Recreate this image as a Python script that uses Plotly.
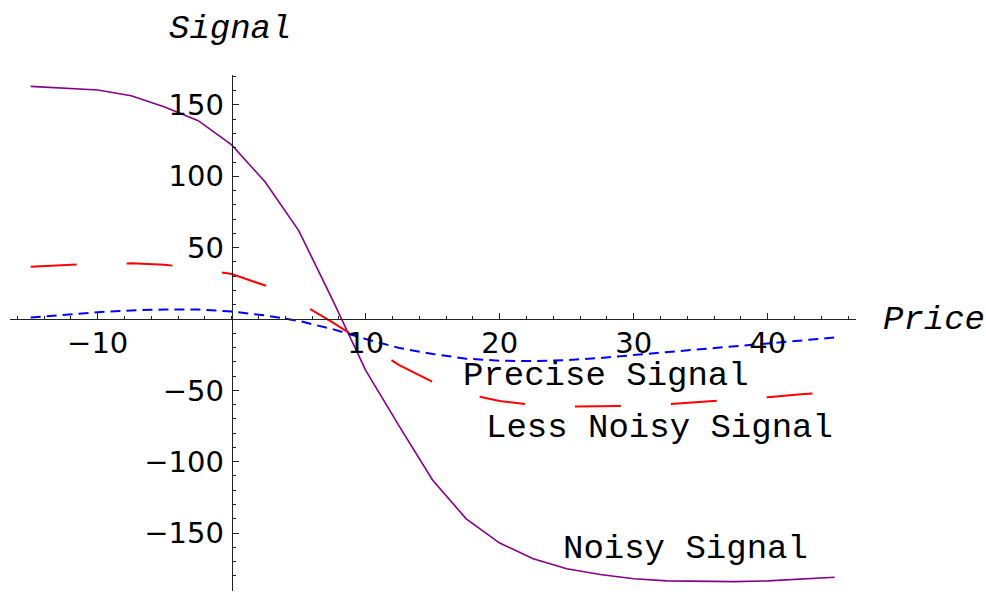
import plotly.graph_objects as go

# ---- data ----
price = [-15, -12.5, -10, -7.5, -5, -2.5, 0, 2.5, 5, 7.5, 10, 12.5, 15,
         17.5, 20, 22.5, 25, 27.5, 30, 32.5, 35, 37.5, 40, 42.5, 45]

noisy_signal = [163, 162, 160.5, 156.5, 148.5, 139, 122, 96, 62, 14, -36, -75, -113,
                -140, -157, -168, -175, -179, -182, -183.5, -184, -184, -183.5, -182.5, -181]

less_noisy_signal = [36.7, 38, 38.8, 39, 38, 35.5, 31.5, 23.5, 11.8, -2.2, -17.3, -32.3, -44,
                     -52.5, -57.5, -60.3, -61.3, -61.3, -60.8, -59.8, -58.3, -56.6, -54.8, -52.8, -51]

precise_signal = [1, 3, 4.8, 6, 6.7, 6.6, 5.3, 2.5, -1.3, -7, -14, -20.3, -24.5,
                  -27.8, -29.2, -29.5, -28.8, -27.3, -25.2, -23, -21, -19, -17, -15, -13]

x_tickvals = [-10, 10, 20, 30, 40]
x_ticktext = ["\u221210", "10", "20", "30", "40"]
y_tickvals = [-150, -100, -50, 50, 100, 150]
y_ticktext = ["\u2212150", "\u2212100", "\u221250", "50", "100", "150"]

# ---- geometry (page body margin removed by post_script) ----
W, H = 986, 592

X_RANGE = [-16.545, 46.567]
Y_RANGE = [-190.6, 171.0]
X_DOMAIN = [10 / W, 855.7 / W]
Y_DOMAIN = [(H - 591) / H, (H - 75) / H]

def x_paper(v):
    f = (v - X_RANGE[0]) / (X_RANGE[1] - X_RANGE[0])
    return X_DOMAIN[0] + f * (X_DOMAIN[1] - X_DOMAIN[0])

def y_paper(v):
    f = (v - Y_RANGE[0]) / (Y_RANGE[1] - Y_RANGE[0])
    return Y_DOMAIN[0] + f * (Y_DOMAIN[1] - Y_DOMAIN[0])

def ax(xpix):
    return xpix / W

def ay(ypix):
    return 1 - ypix / H

fig = go.Figure()

fig.add_trace(go.Scatter(x=price, y=noisy_signal, mode="lines",
                         line=dict(color="#880088", width=1.6),
                         name="Noisy Signal", cliponaxis=False))
fig.add_trace(go.Scatter(x=price, y=less_noisy_signal, mode="lines",
                         line=dict(color="#ff0000", width=2, dash="46px,50px"),
                         name="Less Noisy Signal", cliponaxis=False))
fig.add_trace(go.Scatter(x=price, y=precise_signal, mode="lines",
                         line=dict(color="#0000ff", width=2, dash="10px,6px"),
                         name="Precise Signal", cliponaxis=False))

mono = "Liberation Mono, Courier New, monospace"
lab_font = dict(family=mono, size=34, color="black")

annotations = [
    dict(x=ax(229.5), y=ay(29), xref="paper", yref="paper",
         text="<i>Signal</i>", showarrow=False, font=lab_font,
         xanchor="center", yanchor="middle"),
    dict(x=ax(934), y=ay(320), xref="paper", yref="paper",
         text="<i>Price</i>", showarrow=False, font=lab_font,
         xanchor="center", yanchor="middle"),
    dict(x=ax(605.5), y=ay(376), xref="paper", yref="paper",
         text="Precise Signal", showarrow=False, font=lab_font,
         xanchor="center", yanchor="middle"),
    dict(x=ax(659.5), y=ay(428), xref="paper", yref="paper",
         text="Less Noisy Signal", showarrow=False, font=lab_font,
         xanchor="center", yanchor="middle"),
    dict(x=ax(685), y=ay(549), xref="paper", yref="paper",
         text="Noisy Signal", showarrow=False, font=lab_font,
         xanchor="center", yanchor="middle"),
]

tick_font = dict(family="DejaVu Sans", size=29, color="black")

fig.update_layout(
    width=W, height=H,
    margin=dict(l=0, r=0, t=0, b=0, pad=0),
    paper_bgcolor="white", plot_bgcolor="white",
    showlegend=False,
    hovermode=False,
    annotations=annotations,
    xaxis=dict(
        range=X_RANGE, domain=X_DOMAIN,
        anchor="free", position=y_paper(0),
        showgrid=False, zeroline=False,
        showline=True, linecolor="#222", linewidth=1,
        ticks="inside", ticklen=6, tickwidth=1, tickcolor="#222",
        tickvals=x_tickvals, ticktext=x_ticktext,
        tickfont=tick_font, ticklabelstandoff=-2,
        minor=dict(dtick=2, tick0=0, ticks="inside", ticklen=3.5,
                   tickwidth=1, tickcolor="#222", showgrid=False),
        automargin=False, fixedrange=True,
    ),
    yaxis=dict(
        range=Y_RANGE, domain=Y_DOMAIN,
        anchor="free", position=x_paper(0),
        showgrid=False, zeroline=False,
        showline=True, linecolor="#222", linewidth=1,
        ticks="inside", ticklen=6, tickwidth=1, tickcolor="#222",
        tickvals=y_tickvals, ticktext=y_ticktext,
        tickfont=tick_font, ticklabelstandoff=2,
        minor=dict(dtick=10, tick0=0, ticks="inside", ticklen=3.5,
                   tickwidth=1, tickcolor="#222", showgrid=False),
        automargin=False, fixedrange=True,
    ),
)

fig.write_html(
    "out.html",
    config={"displayModeBar": False, "staticPlot": True},
    post_script="document.body.style.margin='0';document.body.style.overflow='hidden';",
)
